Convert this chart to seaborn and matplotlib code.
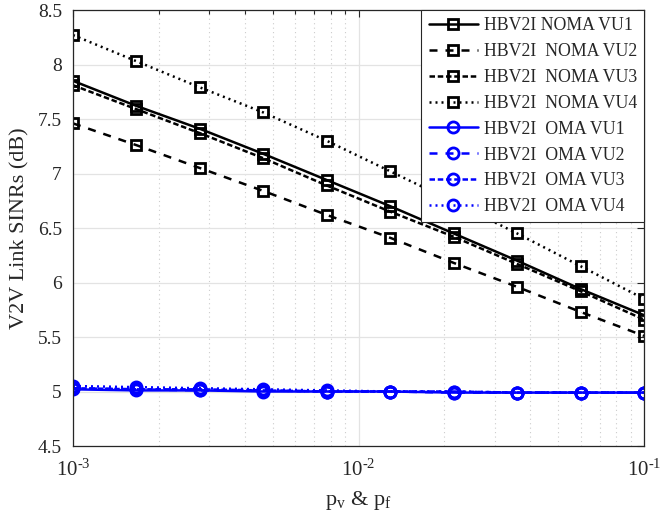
import numpy as np
import pandas as pd
import matplotlib
matplotlib.use("Agg")
import matplotlib.pyplot as plt
import seaborn as sns
from matplotlib.ticker import LogLocator, NullFormatter, FixedLocator, FixedFormatter

sns.set_style("white")
plt.rcParams['font.family'] = ['Liberation Serif', 'DejaVu Serif']
plt.rcParams['mathtext.fontset'] = 'custom'
plt.rcParams['mathtext.rm'] = 'Liberation Serif'
plt.rcParams['mathtext.it'] = 'Liberation Serif'

p = [1e-3, 1.668e-3, 2.783e-3, 4.642e-3, 7.743e-3, 1.292e-2, 2.154e-2, 3.594e-2, 5.995e-2, 1e-1]

noma_vu1 = [7.85, 7.62, 7.41, 7.18, 6.94, 6.70, 6.45, 6.20, 5.94, 5.70]
noma_vu2 = [7.46, 7.26, 7.05, 6.84, 6.62, 6.41, 6.18, 5.96, 5.73, 5.51]
noma_vu3 = [7.81, 7.59, 7.37, 7.14, 6.89, 6.65, 6.42, 6.17, 5.92, 5.66]
noma_vu4 = [8.27, 8.03, 7.79, 7.56, 7.30, 7.02, 6.74, 6.45, 6.15, 5.85]
oma_vu1 = [5.02, 5.01, 5.01, 5.00, 5.00, 5.00, 4.99, 4.99, 4.99, 4.99]
oma_vu2 = [5.03, 5.02, 5.01, 5.01, 5.00, 5.00, 4.99, 4.99, 4.99, 4.99]
oma_vu3 = [5.03, 5.02, 5.02, 5.01, 5.00, 5.00, 5.00, 4.99, 4.99, 4.99]
oma_vu4 = [5.05, 5.04, 5.03, 5.02, 5.01, 5.00, 5.00, 4.99, 4.99, 4.99]

labels = ["HBV2I NOMA VU1", "HBV2I  NOMA VU2", "HBV2I  NOMA VU3", "HBV2I  NOMA VU4",
          "HBV2I  OMA VU1", "HBV2I  OMA VU2", "HBV2I  OMA VU3", "HBV2I  OMA VU4"]
xtick_vals = [1e-3, 1e-2, 1e-1]
xtick_labels = [r'$10^{\text{-}3}$', r'$10^{\text{-}2}$', r'$10^{\text{-}1}$']
ytick_labels = ['4.5', '5', '5.5', '6', '6.5', '7', '7.5', '8', '8.5']

series = [noma_vu1, noma_vu2, noma_vu3, noma_vu4, oma_vu1, oma_vu2, oma_vu3, oma_vu4]
colors = ['black'] * 4 + ['#0000ff'] * 4
styles = ['-', (0, (3.2, 3.2)), (0, (2.2, 1.1)), (0, (0.8, 1.6))] * 2
markers = ['s'] * 4 + ['o'] * 4

fig = plt.figure(figsize=(6.6, 5.27), dpi=100)
ax = fig.add_axes([0.1106, 0.1537, 0.8652, 0.8273])

for lab, vals, c, ls, m in zip(labels, series, colors, styles, markers):
    df = pd.DataFrame({'p': p, 'v': vals})
    sns.lineplot(data=df, x='p', y='v', ax=ax, color=c, linestyle=ls, marker=m,
                 markersize=7 if m == 's' else 8, markerfacecolor='none',
                 markeredgecolor=c, markeredgewidth=2.0, linewidth=1.8, label=lab)

ax.set_xscale('log')
ax.set_xlim(1e-3, 1e-1)
ax.set_ylim(4.5, 8.5)
ax.set_yticks(np.arange(4.5, 8.51, 0.5))
ax.set_yticklabels(ytick_labels)
ax.xaxis.set_major_locator(FixedLocator(xtick_vals))
ax.xaxis.set_major_formatter(FixedFormatter(xtick_labels))
ax.xaxis.set_minor_locator(LogLocator(base=10, subs=np.arange(2, 10), numticks=20))
ax.xaxis.set_minor_formatter(NullFormatter())

ax.grid(True, which='major', color='#e3e3e3', linestyle='-', linewidth=0.9)
ax.grid(True, which='minor', axis='x', color='#cccccc', linestyle=(0, (1, 3)), linewidth=0.8)
ax.set_axisbelow(True)

ax.tick_params(which='both', direction='in', top=True, right=True,
               color='#262626', width=0.8)
ax.tick_params(axis='y', labelsize=14, pad=8)
ax.tick_params(axis='x', labelsize=15, pad=10)
ax.tick_params(which='major', length=5)
ax.tick_params(which='minor', length=3)
for s in ax.spines.values():
    s.set_color('#262626')
    s.set_linewidth(0.9)

ax.set_xlabel(r'p$_\mathrm{v}$ & p$_\mathrm{f}$', fontsize=16, labelpad=6)
ax.set_ylabel('V2V Link SINRs (dB)', fontsize=16, labelpad=6)

leg = ax.legend(loc='upper right', fontsize=12.8, frameon=True, fancybox=False,
                edgecolor='#262626', framealpha=1, borderaxespad=0,
                handlelength=2.8, labelspacing=0.5, borderpad=0.4, handletextpad=0.3)
leg.get_frame().set_linewidth(0.8)

fig.savefig('out.png', dpi=100)
